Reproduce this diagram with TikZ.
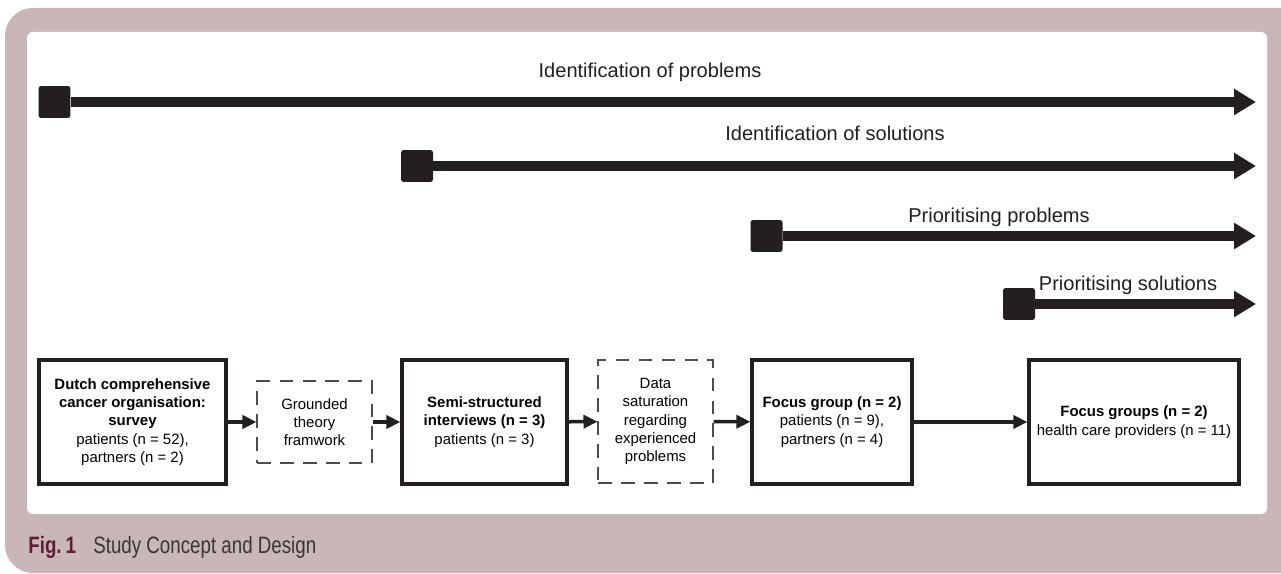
\documentclass[tikz,border=0pt]{standalone}
\usepackage{fontspec}
\setmainfont{Liberation Sans}
\newfontfamily\capfont[FakeStretch=0.79]{Liberation Sans}
\usetikzlibrary{arrows.meta}
\definecolor{framecol}{HTML}{C9B7B7}
\definecolor{ink}{HTML}{231F20}
\definecolor{figred}{HTML}{5E1F35}
\tikzset{
  stagebox/.style={draw=ink, line width=0.065cm, align=center, inner sep=1pt,
    minimum height=2.48cm, font=\fontsize{8.5}{10.4}\selectfont},
  dashbox/.style={draw=black!70, line width=0.6pt, dash pattern=on 0.27cm off 0.19cm,
    align=center, inner sep=1pt, font=\fontsize{8.5}{10.4}\selectfont},
  flow/.style={draw=ink, line width=0.07cm, -{Triangle[length=0.28cm,width=0.26cm]}},
  startsq/.style={fill=ink, minimum size=0.64cm, inner sep=0pt, rounded corners=1.5pt},
  phasebar/.style={draw=ink, line width=0.2cm, -{Triangle[length=0.44cm,width=0.5cm]}},
  phaselabel/.style={anchor=base, text=ink, font=\fontsize{11.4}{13}\selectfont},
}
\begin{document}
\begin{tikzpicture}[x=0.02cm, y=-0.02cm]
  \useasboundingbox (0,0) rectangle (1281,574);
  % Frame and white panel
  \fill[framecol, rounded corners=0.56cm] (5,8) rectangle (1330,573);
  \fill[white, rounded corners=0.12cm] (27,32) rectangle (1267,514);

  % Phase bars
  \node[startsq] (s1) at (54.5,102) {};
  \coordinate (e1) at (1256,102);
  \draw[phasebar] (s1.east) -- (e1);
  \node[phaselabel] (l1) at (650,78) {Identification of problems};

  \node[startsq] (s2) at (417,166) {};
  \coordinate (e2) at (1256,166);
  \draw[phasebar] (s2.east) -- (e2);
  \node[phaselabel] (l2) at (835,141) {Identification of solutions};

  \node[startsq] (s3) at (766.5,236) {};
  \coordinate (e3) at (1256,236);
  \draw[phasebar] (s3.east) -- (e3);
  \node[phaselabel] (l3) at (999,223) {Prioritising problems};

  \node[startsq] (s4) at (1019,304) {};
  \coordinate (e4) at (1256,304);
  \draw[phasebar] (s4.east) -- (e4);
  \node[phaselabel] (l4) at (1128,291) {Prioritising solutions};

  % Study steps
  \node[stagebox, minimum width=3.74cm] (survey) at (132.5,422)
    {\textbf{Dutch comprehensive}\\\textbf{cancer organisation:}\\\textbf{survey}\\
     patients (n = 52),\\partners (n = 2)};
  \node[dashbox, minimum width=2.3cm, minimum height=1.64cm] (theory) at (314.5,422)
    {Grounded\\theory\\framwork};
  \node[stagebox, minimum width=3.3cm] (interviews) at (484.5,422)
    {\textbf{Semi-structured}\\\textbf{interviews (n = 3)}\\patients (n = 3)};
  \node[dashbox, minimum width=2.3cm, minimum height=2.46cm] (saturation) at (655.5,421.5)
    {Data\\saturation\\regarding\\experienced\\problems};
  \node[stagebox, minimum width=3.2cm] (focus) at (832,422)
    {\textbf{Focus group (n = 2)}\\patients (n = 9),\\partners (n = 4)};
  \node[stagebox, minimum width=4.2cm] (providers) at (1134,422)
    {\textbf{Focus groups (n = 2)}\\health care providers (n = 11)};

  \draw[flow] (survey) -- (theory);
  \draw[flow] (theory) -- (interviews);
  \draw[flow] (interviews) -- (saturation);
  \draw[flow] (saturation) -- (focus);
  \draw[flow] (focus) -- (providers);

  % Caption
  \node[anchor=base west, inner sep=0pt, text=figred,
    font=\fontsize{13.5}{15}\selectfont\capfont\bfseries] (fig) at (28,553) {Fig.\,1};
  \node[anchor=base west, inner sep=0pt, text=ink!90,
    font=\fontsize{13.5}{15}\selectfont\capfont] (title) at (93,553) {Study Concept and Design};
\end{tikzpicture}
\end{document}
